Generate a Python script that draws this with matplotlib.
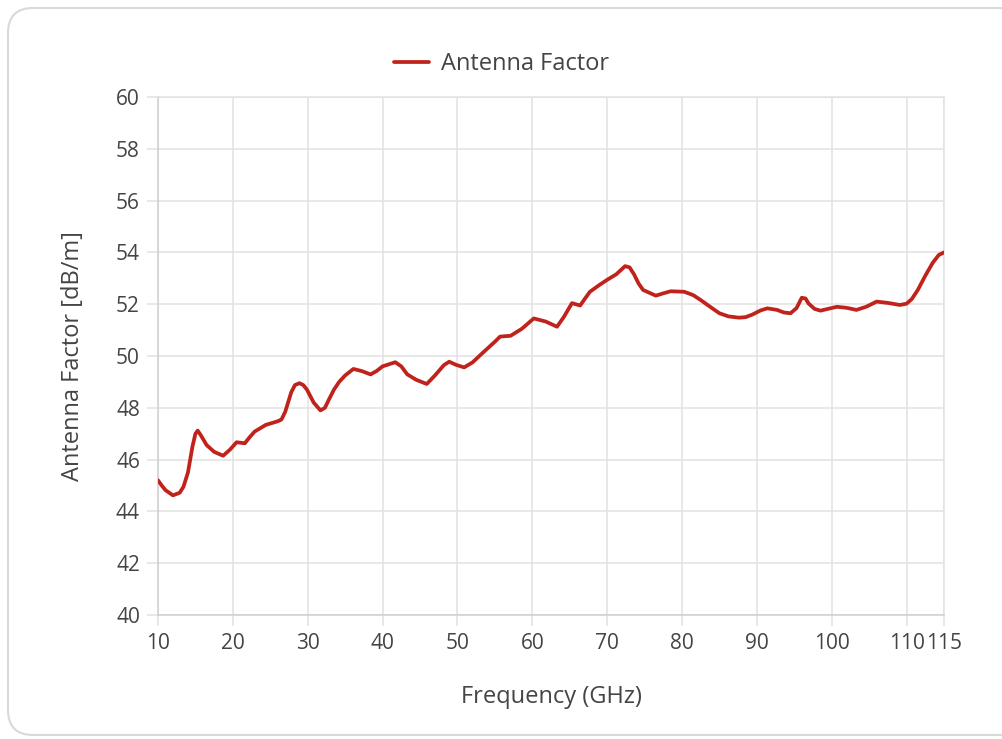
import matplotlib
matplotlib.use("Agg")
import matplotlib.pyplot as plt
from matplotlib.patches import FancyBboxPatch

plt.rcParams['font.family'] = ['Open Sans', 'DejaVu Sans']

freq = [10.0, 10.5, 11.0, 12.0, 12.9, 13.4, 14.0, 14.6, 15.0, 15.3, 15.7, 16.5, 17.5, 18.7,
        19.6, 20.5, 21.6, 22.2, 22.9, 24.4, 26.0, 26.5, 27.0, 27.8, 28.3, 28.9, 29.4, 29.9,
        30.8, 31.7, 32.3, 32.8, 33.5, 34.2, 35.0, 36.1, 37.2, 38.4, 39.2, 40.0, 41.7,
        42.5, 43.3, 44.5, 45.9, 47.0, 48.2, 48.9, 49.8, 50.9, 52.0, 53.3, 55.0, 55.7,
        57.1, 58.6, 60.2, 61.8, 63.3, 64.2, 65.3, 66.4, 67.0, 67.7, 69.0, 70.1, 71.2,
        72.4, 73.0, 73.6, 74.2, 74.8, 76.5, 77.5, 78.5, 80.3, 81.5, 82.5, 84.0, 85.0,
        86.2, 87.6, 88.5, 89.4, 90.5, 91.4, 92.7, 93.6, 94.5, 95.3, 96.0, 96.5, 96.9,
        97.7, 98.5, 99.5, 100.7, 102.0, 103.3, 104.6, 106.0, 107.5, 109.1, 110.0, 110.7,
        111.5, 112.5, 113.5, 114.3, 115.0]
factor = [45.2, 45.0, 44.82, 44.62, 44.72, 44.95, 45.5, 46.5, 47.0, 47.12, 46.95, 46.56, 46.3, 46.15,
          46.38, 46.67, 46.63, 46.85, 47.08, 47.34, 47.48, 47.55, 47.85, 48.6, 48.88, 48.95, 48.88, 48.7,
          48.2, 47.9, 48.0, 48.3, 48.7, 49.0, 49.25, 49.5, 49.42, 49.29, 49.42, 49.6, 49.76,
          49.6, 49.29, 49.08, 48.92, 49.25, 49.65, 49.78, 49.66, 49.56, 49.75, 50.1, 50.55, 50.75,
          50.78, 51.05, 51.45, 51.33, 51.13, 51.5, 52.04, 51.95, 52.2, 52.48, 52.75, 52.96, 53.15,
          53.47, 53.42, 53.15, 52.8, 52.55, 52.33, 52.42, 52.5, 52.48, 52.35, 52.16, 51.85, 51.65,
          51.53, 51.48, 51.5, 51.6, 51.76, 51.84, 51.78, 51.68, 51.65, 51.85, 52.25, 52.22, 52.03,
          51.82, 51.75, 51.82, 51.9, 51.86, 51.78, 51.9, 52.1, 52.05, 51.97, 52.02, 52.2,
          52.55, 53.1, 53.6, 53.9, 54.0]

xticks = [10, 20, 30, 40, 50, 60, 70, 80, 90, 100, 110, 115]
yticks = list(range(40, 61, 2))

fig = plt.figure(figsize=(10.03, 7.39), dpi=100)
card = FancyBboxPatch((8/1003, 4/739), 1.02 - 8/1003, 1 - 12/739,
                      boxstyle="round,pad=0,rounding_size=0.025",
                      transform=fig.transFigure, facecolor='white',
                      edgecolor='#d9d9d9', linewidth=1.5, zorder=-10,
                      mutation_aspect=1003/739)
fig.patches.append(card)

ax = fig.add_axes([158/1003, 1 - 615/739, (944-158)/1003, (615-97)/739])
ax.set_zorder(1)
ax.set_facecolor('none')
ax.plot(freq, factor, color='#c0221c', linewidth=2.7, label='Antenna Factor',
        solid_capstyle='round', solid_joinstyle='round', zorder=3)
ax.set_xlim(10, 115)
ax.set_ylim(40, 60)
ax.set_xticks(xticks)
ax.set_yticks(yticks)
ax.grid(True, color='#e2e2e2', linewidth=1.1)
for s in ax.spines.values():
    s.set_color('#e2e2e2')
    s.set_linewidth(1.1)
ax.spines['left'].set_color('#cfcfcf')
ax.spines['bottom'].set_color('#cfcfcf')
ax.tick_params(axis='both', colors='#e2e2e2', length=8, width=1.1,
               labelcolor='#444444', labelsize=15, pad=5)
ax.set_xlabel('Frequency (GHz)', fontsize=17, color='#444444', labelpad=22)
ax.set_ylabel('Antenna Factor [dB/m]', fontsize=17, color='#444444', labelpad=22)

leg = fig.legend(loc='center', bbox_to_anchor=(0.5, 1 - 64/739), frameon=False,
                 fontsize=17, handlelength=1.5, handletextpad=0.5)
for t in leg.get_texts():
    t.set_color('#444444')

fig.savefig('out.png', dpi=100, facecolor='white')
